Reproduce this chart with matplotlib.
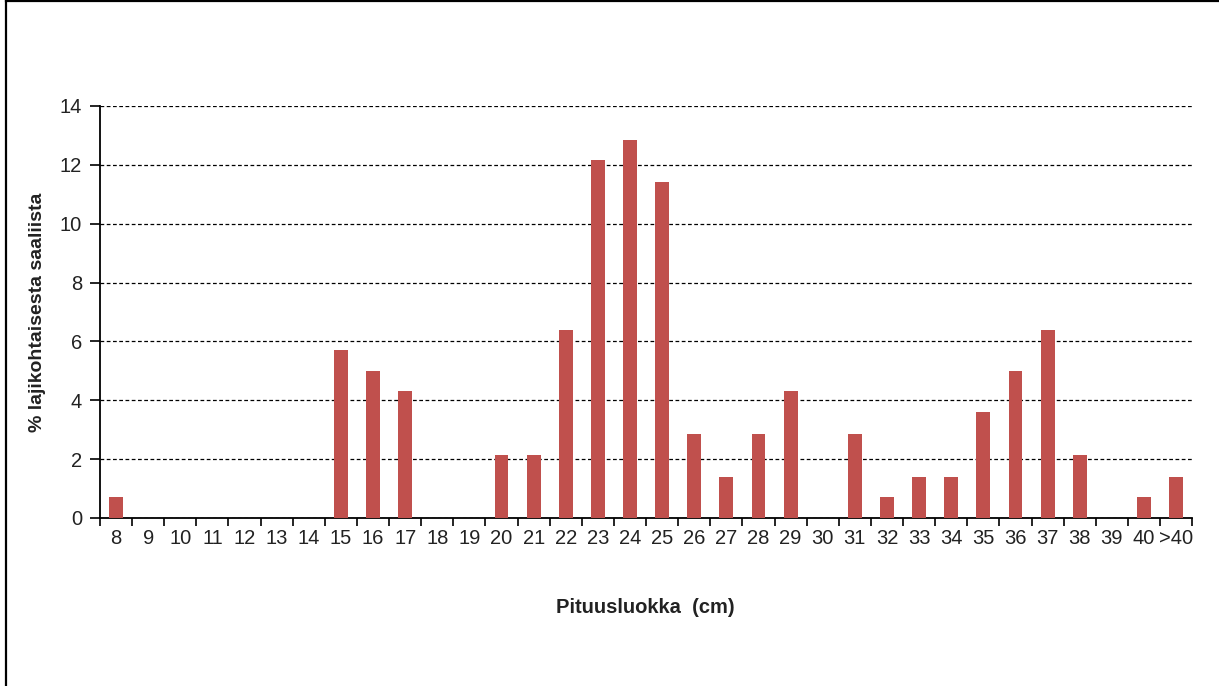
import matplotlib.pyplot as plt
from matplotlib.lines import Line2D

plt.rc('font', family='Liberation Sans')

# Pituusluokat ja osuudet (%)
classes = ['8', '9', '10', '11', '12', '13', '14', '15', '16', '17', '18', '19', '20',
           '21', '22', '23', '24', '25', '26', '27', '28', '29', '30', '31', '32', '33',
           '34', '35', '36', '37', '38', '39', '40', '>40']
share = [0.7, 0, 0, 0, 0, 0, 0, 5.7, 5.0, 4.3, 0, 0, 2.15,
         2.15, 6.4, 12.15, 12.85, 11.4, 2.85, 1.4, 2.85, 4.3, 0, 2.85, 0.7, 1.4,
         1.4, 3.6, 5.0, 6.4, 2.15, 0, 0.7, 1.4]

fig = plt.figure(figsize=(12.19, 6.86), dpi=100)
ax = fig.add_axes([0.082, 0.245, 0.896, 0.6005])

x = list(range(len(classes)))
ax.bar(x, share, width=0.43, color='#C0504D', zorder=3)

ax.set_xlim(-0.5, len(classes) - 0.5)
ax.set_ylim(0, 14)
ax.set_yticks(range(0, 15, 2))
ax.yaxis.grid(True, linestyle=(0, (3, 2)), color='black', linewidth=0.9)
ax.set_axisbelow(True)

# tick labels at category centres, tick marks at category borders
ax.set_xticks(x)
ax.set_xticklabels(classes)
ax.tick_params(axis='x', length=0, pad=8, labelsize=14.5, colors='#222222')
ax.set_xticks([i - 0.5 for i in range(len(classes) + 1)], minor=True)
ax.tick_params(axis='x', which='minor', length=6, width=1.2, direction='out')
ax.tick_params(axis='y', length=7, width=1.2, direction='out', labelsize=14.5, pad=6,
               labelcolor='#222222')

ax.spines['top'].set_visible(False)
ax.spines['right'].set_visible(False)
ax.spines['left'].set_linewidth(1.3)
ax.spines['bottom'].set_linewidth(1.3)

ax.set_ylabel('% lajikohtaisesta saaliista', fontsize=14, fontweight='bold', labelpad=10,
              color='#222222')
fig.text(0.529, 0.114, 'Pituusluokka  (cm)', fontsize=14.5, fontweight='bold',
         ha='center', va='center', color='#222222')

# reunaviivat vasemmalla ja ylhaalla
fig.add_artist(Line2D([0.005, 0.005], [0, 1], transform=fig.transFigure, color='black', linewidth=1.6))
fig.add_artist(Line2D([0.005, 1], [0.998, 0.998], transform=fig.transFigure, color='black', linewidth=1.6))

plt.savefig('out.png', dpi=100)
